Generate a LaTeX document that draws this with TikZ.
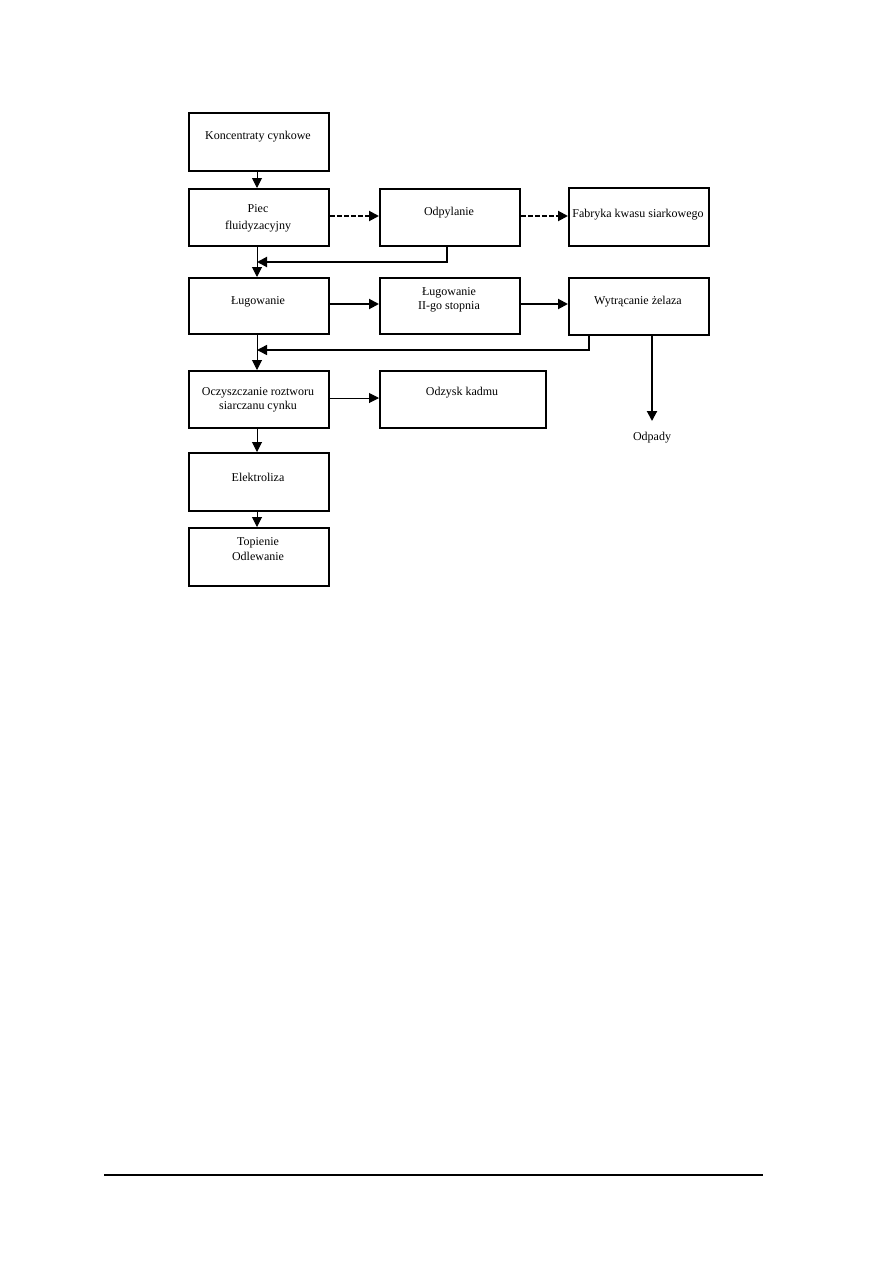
\documentclass[tikz,border=0pt]{standalone}
\usepackage{fontspec}
\setmainfont{Liberation Serif}
\usetikzlibrary{arrows.meta}
\begin{document}
\begin{tikzpicture}[x=1pt,y=-1pt,
  box/.style={draw,line width=1.8pt,minimum width=140pt,inner sep=0pt,anchor=north west},
  txt/.style={font=\fontsize{12}{14}\selectfont,align=center,inner sep=0pt},
  tip/.style={-{Triangle[length=10pt,width=10pt]}},
  thin/.style={line width=1pt},
  thick/.style={line width=2pt},
  dashline/.style={line width=2pt,dash pattern=on 5pt off 2pt}]
\useasboundingbox (0,0) rectangle (893,1263);
% boxes
\node[box,minimum height=58pt] (k) at (188,112) {};
\node[box,minimum height=57pt] (p) at (188,188) {};
\node[box,minimum height=57pt] (o) at (379,188) {};
\node[box,minimum height=58pt] (f) at (568,187) {};
\node[box,minimum height=56pt] (l) at (188,277) {};
\node[box,minimum height=56pt] (l2) at (379,277) {};
\node[box,minimum height=57pt] (w) at (568,277) {};
\node[box,minimum height=57pt] (c) at (188,370) {};
\node[box,minimum height=57pt,minimum width=166pt] (d) at (379,370) {};
\node[box,minimum height=58pt] (e) at (188,452) {};
\node[box,minimum height=58pt] (t) at (188,527) {};
% texts
\node[txt] (kt) at (258,137) {Koncentraty cynkowe};
\node[txt,font=\fontsize{12}{17}\selectfont] (pt) at (258,218) {Piec\\fluidyzacyjny};
\node[txt] (ot) at (449,213) {Odpylanie};
\node[txt] (ft) at (638,215) {Fabryka kwasu siarkowego};
\node[txt] (lt) at (258,302) {Ługowanie};
\node[txt] (l2t) at (449,300) {Ługowanie\\II-go stopnia};
\node[txt] (wt) at (638,302) {Wytrącanie żelaza};
\node[txt] (ct) at (258,399.5) {Oczyszczanie roztworu\\siarczanu cynku};
\node[txt] (dt) at (462,393) {Odzysk kadmu};
\node[txt] (et) at (258,477) {Elektroliza};
\node[txt,font=\fontsize{12}{15}\selectfont] (tt) at (258,549.5) {Topienie\\Odlewanie};
\node[txt] (odp) at (652,438) {Odpady};
% main vertical chain
\draw[thin,tip] (k.south -| 257,0) -- (p.north -| 257,0);
\draw[thin,tip] (p.south -| 257,0) -- (l.north -| 257,0);
\draw[thin,tip] (l.south -| 257,0) -- (c.north -| 257,0);
\draw[thin,tip] (c.south -| 257,0) -- (e.north -| 257,0);
\draw[thin,tip] (e.south -| 257,0) -- (t.north -| 257,0);
% dashed arrows
\draw[dashline,tip] (p.east |- 0,216) -- (o.west |- 0,216);
\draw[dashline,tip] (o.east |- 0,216) -- (f.west |- 0,216);
% feedback from Odpylanie
\coordinate (fb1) at (257,262);
\draw[thick,tip] (o.south -| 447,0) |- (fb1);
% Lugowanie chain
\draw[thick,tip] (l.east |- 0,304) -- (l2.west |- 0,304);
\draw[thick,tip] (l2.east |- 0,304) -- (w.west |- 0,304);
% feedback from Wytracanie
\coordinate (fb2) at (257,350);
\draw[line width=1.5pt,tip] (w.south -| 589,0) |- (fb2);
% Odpady
\draw[thick,tip] (w.south -| 652,0) -- (odp.north |- 0,421);
% Odzysk kadmu
\draw[thin,tip] (c.east |- 0,398) -- (d.west |- 0,398);
% footer rule
\coordinate (r1) at (104,1175);
\coordinate (r2) at (763,1175);
\draw[line width=1.3pt] (r1) -- (r2);
\end{tikzpicture}
\end{document}
